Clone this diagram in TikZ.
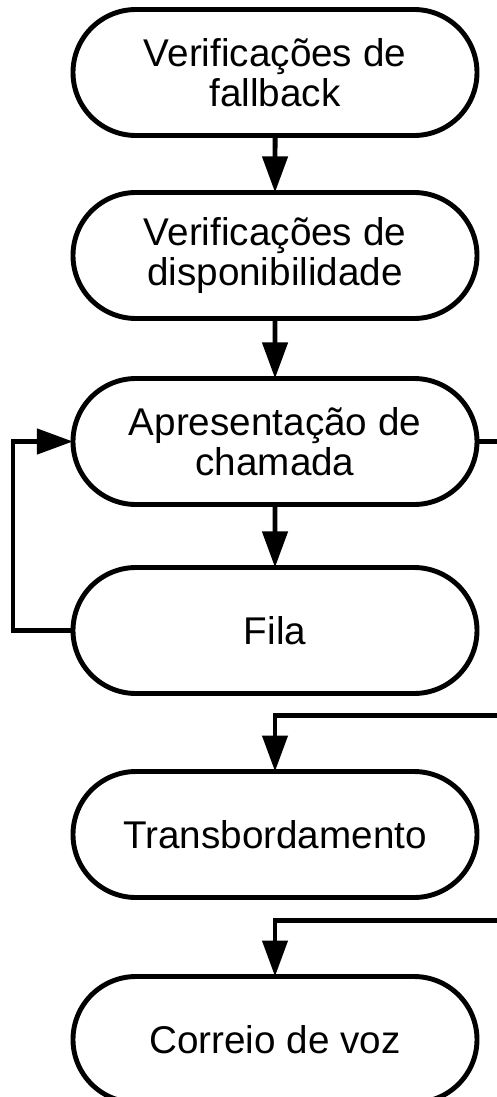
\documentclass[tikz,border=0pt]{standalone}
\usepackage{fontspec}
\setmainfont{Liberation Sans}
\usetikzlibrary{arrows.meta,positioning,shapes.misc}

\begin{document}
\begin{tikzpicture}[
  term/.style={draw, rounded rectangle, line width=3.5pt, outer sep=0pt, inner sep=0pt,
    minimum width=10.1cm, minimum height=3.15cm, align=center,
    font=\fontsize{27.5}{28.5}\selectfont},
  arr/.style={-{Triangle[length=0.9cm, width=0.62cm]}, line width=3.5pt},
  lin/.style={line width=3.5pt}
]
  \useasboundingbox (-6.875,1.8125) rectangle (5.55,-25.6125);
  \coordinate (edge) at (5.55,0);

  \node[term] (fallback) at (0,0) {Verificações de\\fallback};
  \node[term, below=1.425cm of fallback] (avail) {Verificações de\\disponibilidade};
  \node[term, below=1.5cm of avail] (call) {Apresentação de\\chamada};
  \node[term, below=1.575cm of call] (queue) {Fila};
  \node[term, below=1.95cm of queue] (over) {Transbordamento};
  \node[term, below=1.975cm of over] (voice) {Correio de voz};

  \draw[arr] (fallback) -- (avail);
  \draw[arr] (avail) -- (call);
  \draw[arr] (call) -- (queue);

  % back to call presentation
  \coordinate (loop) at ([xshift=-1.5cm]queue.west);
  \draw[arr] (queue.west) -- (loop) |- (call.west);

  % branches leaving to the right
  \draw[lin] (call.east) -- (call.east -| edge);
  \coordinate (overin) at ([yshift=1.4cm]over.north);
  \draw[arr] (overin -| edge) -- (overin) -- (over.north);
  \coordinate (voicein) at ([yshift=1.4cm]voice.north);
  \draw[arr] (voicein -| edge) -- (voicein) -- (voice.north);
\end{tikzpicture}
\end{document}
